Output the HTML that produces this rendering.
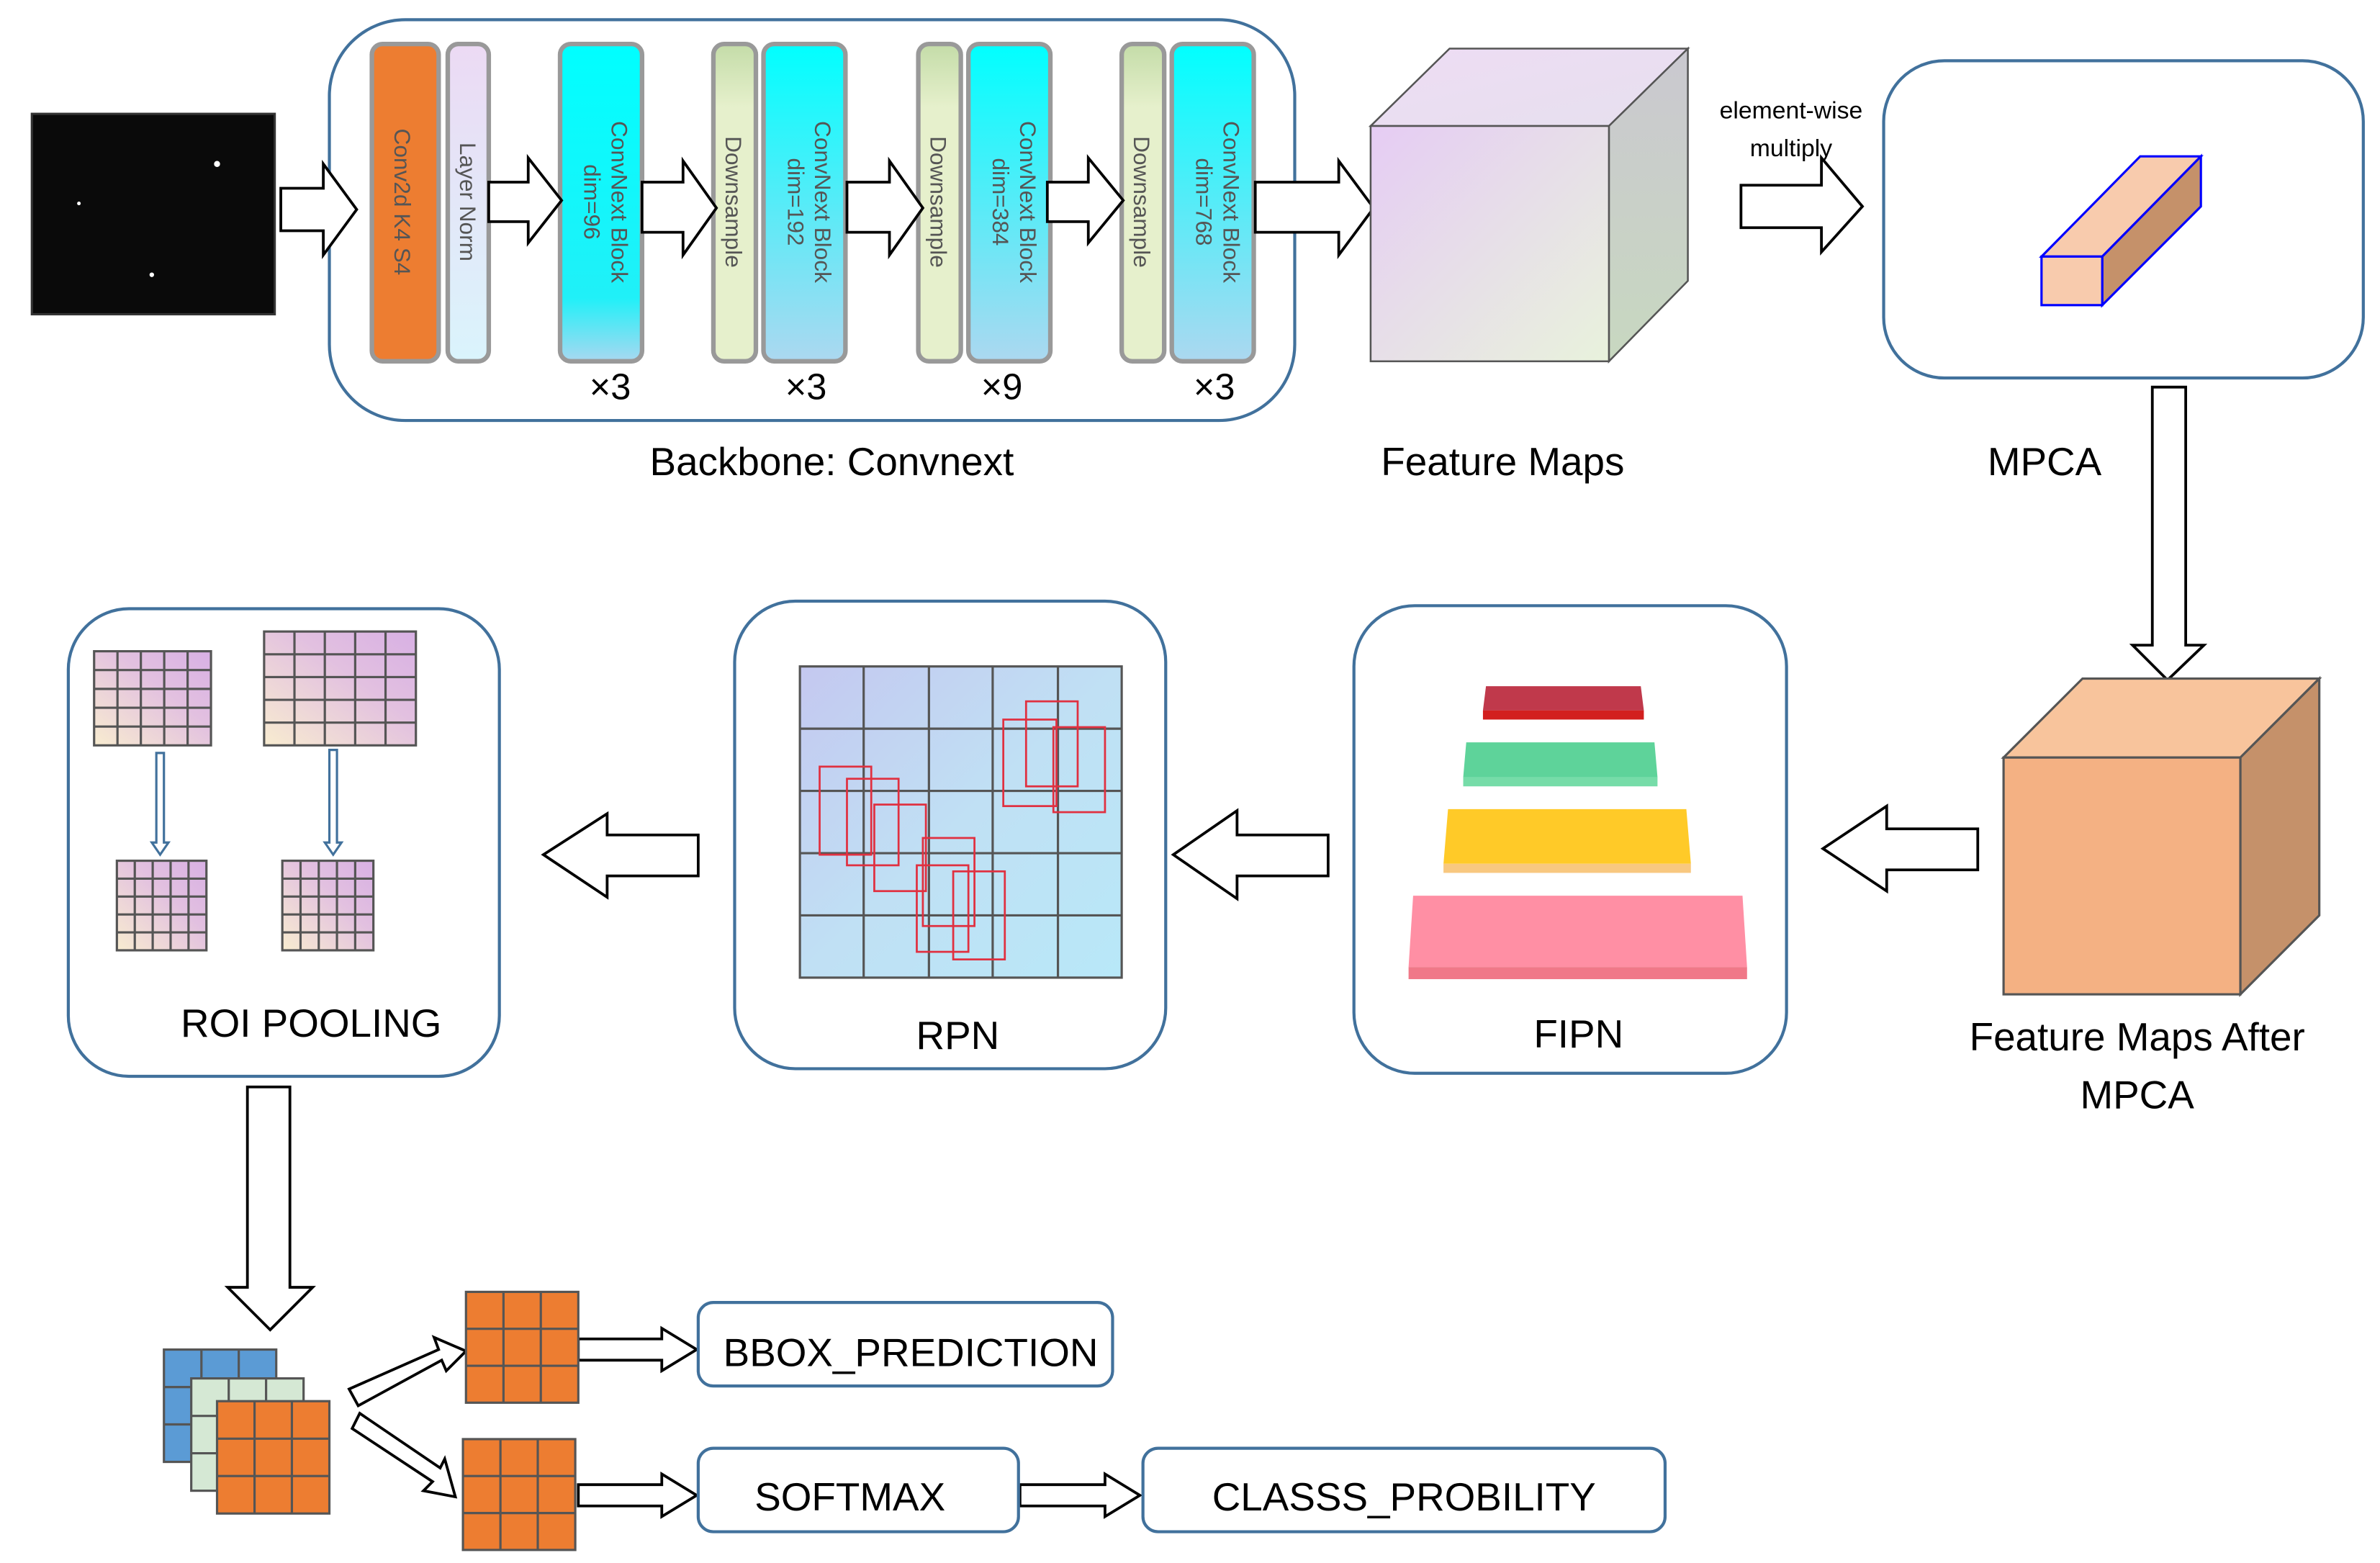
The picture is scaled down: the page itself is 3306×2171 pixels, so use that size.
<!DOCTYPE html>
<html><head><meta charset="utf-8"><style>html,body{margin:0;padding:0;background:#fff}svg{display:block}</style></head><body>
<svg width="3306" height="2171" viewBox="0 0 1568 1029.6" preserveAspectRatio="none" xmlns="http://www.w3.org/2000/svg" font-family="Liberation Sans, DejaVu Sans, sans-serif">
<defs>
<linearGradient id="cy" x1="0" y1="0" x2="0" y2="1"><stop offset="0" stop-color="#00ffff"/><stop offset=".8" stop-color="#20f0f8"/><stop offset="1" stop-color="#a8d8f0"/></linearGradient>
<linearGradient id="cy2" x1="0" y1="0" x2="0" y2="1"><stop offset="0" stop-color="#00ffff"/><stop offset="1" stop-color="#acd8f0"/></linearGradient>
<linearGradient id="ln" x1="0" y1="0" x2="0" y2="1"><stop offset="0" stop-color="#ecdaf4"/><stop offset="1" stop-color="#daf4fc"/></linearGradient>
<linearGradient id="ds" x1="0" y1="0" x2="0" y2="1"><stop offset="0" stop-color="#c4dca8"/><stop offset=".2" stop-color="#e6f0cc"/><stop offset="1" stop-color="#e6f0cc"/></linearGradient>
<linearGradient id="fm" x1="0" y1="0" x2="1" y2="1"><stop offset="0" stop-color="#e6ccf4"/><stop offset="1" stop-color="#e8f2dc"/></linearGradient>
<linearGradient id="fmt" x1="0" y1="0" x2="1" y2="1"><stop offset="0" stop-color="#eedcf4"/><stop offset="1" stop-color="#e6e0ee"/></linearGradient>
<linearGradient id="fms" x1="0" y1="0" x2="0" y2="1"><stop offset="0" stop-color="#cac8d0"/><stop offset="1" stop-color="#c8d8c0"/></linearGradient>
<linearGradient id="rp" x1="0" y1="0" x2="1" y2="1"><stop offset="0" stop-color="#c4c8f0"/><stop offset=".5" stop-color="#c0e0f4"/><stop offset="1" stop-color="#b8e8f8"/></linearGradient>
<linearGradient id="cell" x1="0" y1="1" x2="1" y2="0"><stop offset="0" stop-color="#f8ecd0"/><stop offset=".6" stop-color="#e2c0e0"/><stop offset="1" stop-color="#d8b0e4"/></linearGradient>
</defs>
<rect x="21" y="75" width="160" height="132" fill="#0a0a0a" stroke="#333" stroke-width="1.5"/>
<g fill="#fff"><circle cx="143" cy="108" r="2"/><circle cx="52" cy="134" r="1.2"/><circle cx="100" cy="181" r="1.5"/></g>
<rect x="217" y="13" width="636" height="264" rx="50" fill="none" stroke="#41719c" stroke-width="2"/>
<g stroke="#999" stroke-width="3">
<rect x="245" y="29" width="44" height="209" rx="7" fill="#ed7d31"/>
<rect x="295" y="29" width="27" height="209" rx="7" fill="url(#ln)"/>
<rect x="369" y="29" width="54" height="209" rx="7" fill="url(#cy)"/>
<rect x="470" y="29" width="28" height="209" rx="7" fill="url(#ds)"/>
<rect x="503" y="29" width="54" height="209" rx="7" fill="url(#cy2)"/>
<rect x="605" y="29" width="28" height="209" rx="7" fill="url(#ds)"/>
<rect x="638" y="29" width="54" height="209" rx="7" fill="url(#cy2)"/>
<rect x="739" y="29" width="28" height="209" rx="7" fill="url(#ds)"/>
<rect x="772" y="29" width="54" height="209" rx="7" fill="url(#cy2)"/>
</g>
<g fill="#555" font-size="15">
<text transform="translate(260,133) rotate(90)" text-anchor="middle">Conv2d  K4  S4</text>
<text transform="translate(303,133) rotate(90)" text-anchor="middle">Layer Norm</text>
<text transform="translate(403,133) rotate(90)" text-anchor="middle">ConvNext Block</text>
<text transform="translate(385,133) rotate(90)" text-anchor="middle">dim=96</text>
<text transform="translate(478,133) rotate(90)" text-anchor="middle">Downsample</text>
<text transform="translate(537,133) rotate(90)" text-anchor="middle">ConvNext Block</text>
<text transform="translate(519,133) rotate(90)" text-anchor="middle">dim=192</text>
<text transform="translate(613,133) rotate(90)" text-anchor="middle">Downsample</text>
<text transform="translate(672,133) rotate(90)" text-anchor="middle">ConvNext Block</text>
<text transform="translate(654,133) rotate(90)" text-anchor="middle">dim=384</text>
<text transform="translate(747,133) rotate(90)" text-anchor="middle">Downsample</text>
<text transform="translate(806,133) rotate(90)" text-anchor="middle">ConvNext Block</text>
<text transform="translate(788,133) rotate(90)" text-anchor="middle">dim=768</text>
</g>
<g font-size="24" fill="#000" text-anchor="middle">
<text x="402" y="263">×3</text><text x="531" y="263">×3</text><text x="660" y="263">×9</text><text x="800" y="263">×3</text>
</g>
<g fill="#fff" stroke="#000" stroke-width="1.8" stroke-linejoin="miter">
<polygon points="185,124 213,124 213,108 235,138 213,168 213,152 185,152"/>
<polygon points="322,120 348,120 348,104 370,132 348,160 348,146 322,146"/>
<polygon points="423,120 450,120 450,106 472,137 450,168 450,153 423,153"/>
<polygon points="558,120 586,120 586,106 608,137 586,168 586,153 558,153"/>
<polygon points="690,120 717,120 717,104 740,132 717,160 717,146 690,146"/>
<polygon points="827,120 882,120 882,106 905,137 882,168 882,153 827,153"/>
<polygon points="1147,122 1200,122 1200,104 1227,136 1200,166 1200,150 1147,150"/>
<polygon points="1418,255 1440,255 1440,425 1452,425 1428,448 1405,425 1418,425"/>
<polygon points="1303,546 1243,546 1243,531 1201,559 1243,587 1243,573 1303,573"/>
<polygon points="875,550 815,550 815,534 773,563 815,592 815,577 875,577"/>
<polygon points="460,550 400,550 400,536 358,563 400,591 400,577 460,577"/>
<polygon points="163,716 191,716 191,848 206,848 178,876 150,848 163,848"/>
<polygon points="381,882 436,882 436,875 459,889 436,903 436,896 381,896"/>
<polygon points="381,978 436,978 436,971 459,985 436,999 436,992 381,992"/>
<polygon points="672,978 728,978 728,971 751,985 728,999 728,992 672,992"/>
<polygon points="230,915 289,889 286,881 307,890 294,903 291,896 236,926"/>
<polygon points="232,941 237,931 290,967 293,961 300,986 279,982 285,976"/>
</g>
<g stroke="#555" stroke-width="1.2">
<polygon points="903,83 955,32 1112,32 1060,83" fill="url(#fmt)"/>
<polygon points="1060,83 1112,32 1112,185 1060,238" fill="url(#fms)"/>
<rect x="903" y="83" width="157" height="155" fill="url(#fm)"/>
</g>
<text x="1180" y="78" font-size="16" text-anchor="middle">element-wise</text>
<text x="1180" y="103" font-size="16" text-anchor="middle">multiply</text>
<rect x="1241" y="40" width="316" height="209" rx="40" fill="none" stroke="#41719c" stroke-width="2"/>
<g stroke="#0000ff" stroke-width="1.5">
<polygon points="1345,169 1410,103 1450,103 1385,169" fill="#f8cbad"/>
<polygon points="1385,169 1450,103 1450,136 1385,201" fill="#c5916a"/>
<rect x="1345" y="169" width="40" height="32" fill="#f8cbad"/>
</g>
<g font-size="26" text-anchor="middle" fill="#000">
<text x="548" y="313">Backbone: Convnext</text>
<text x="990" y="313">Feature Maps</text>
<text x="1347" y="313">MPCA</text>
<text x="1408" y="692">Feature Maps After</text>
<text x="1408" y="730">MPCA</text>
<text x="1040" y="690">FIPN</text>
<text x="631" y="691">RPN</text>
<text x="205" y="683">ROI  POOLING</text>
</g>
<g stroke="#555" stroke-width="1.5">
<polygon points="1320,499 1372,447 1528,447 1476,499" fill="#f8c49c"/>
<polygon points="1476,499 1528,447 1528,603 1476,655" fill="#c5916a"/>
<rect x="1320" y="499" width="156" height="156" fill="#f4b183"/>
</g>
<rect x="892" y="399" width="285" height="308" rx="40" fill="none" stroke="#41719c" stroke-width="2"/>
<polygon points="979,452 1081,452 1083,468 977,468" fill="#c0394b"/><rect x="977" y="468" width="106" height="6" fill="#d21f1f"/>
<polygon points="966,489 1090,489 1092,512 964,512" fill="#5ed39a"/><rect x="964" y="512" width="128" height="6" fill="#76dca8"/>
<polygon points="954,533 1111,533 1114,569 951,569" fill="#ffca28"/><rect x="951" y="569" width="163" height="6" fill="#f8c880"/>
<polygon points="931,590 1148,590 1151,637 928,637" fill="#ff8fa4"/><rect x="928" y="637" width="223" height="8" fill="#f07888"/>
<rect x="484" y="396" width="284" height="308" rx="40" fill="none" stroke="#41719c" stroke-width="2"/>
<rect x="527" y="439" width="212" height="205" fill="url(#rp)" stroke="#555" stroke-width="1.5"/>
<g stroke="#555" stroke-width="1.5">
<line x1="569" y1="439" x2="569" y2="644"/><line x1="612" y1="439" x2="612" y2="644"/><line x1="654" y1="439" x2="654" y2="644"/><line x1="697" y1="439" x2="697" y2="644"/>
<line x1="527" y1="480" x2="739" y2="480"/><line x1="527" y1="521" x2="739" y2="521"/><line x1="527" y1="562" x2="739" y2="562"/><line x1="527" y1="603" x2="739" y2="603"/>
</g>
<g fill="none" stroke="#e03040" stroke-width="1.3">
<rect x="540" y="505" width="34" height="58"/><rect x="558" y="513" width="34" height="57"/><rect x="576" y="530" width="34" height="57"/>
<rect x="608" y="552" width="34" height="58"/><rect x="604" y="570" width="34" height="57"/><rect x="628" y="574" width="34" height="58"/>
<rect x="661" y="474" width="35" height="57"/><rect x="676" y="462" width="34" height="56"/><rect x="694" y="479" width="34" height="56"/>
</g>
<rect x="45" y="401" width="284" height="308" rx="40" fill="none" stroke="#41719c" stroke-width="2"/>
<g stroke="#555" stroke-width="1.5" fill="url(#cell)">
<rect x="62" y="429" width="77" height="62"/><rect x="174" y="416" width="100" height="75"/>
<rect x="77" y="567" width="59" height="59"/><rect x="186" y="567" width="60" height="59"/>
</g>
<g stroke="#555" stroke-width="1.5">
<path d="M77.4 429V491M92.8 429V491M108.2 429V491M123.6 429V491M62 441.4H139M62 453.8H139M62 466.2H139M62 478.6H139"/>
<path d="M194 416V491M214 416V491M234 416V491M254 416V491M174 431H274M174 446H274M174 461H274M174 476H274"/>
<path d="M88.8 567V626M100.6 567V626M112.4 567V626M124.2 567V626M77 578.8H136M77 590.6H136M77 602.4H136M77 614.2H136"/>
<path d="M198 567V626M210 567V626M222 567V626M234 567V626M186 578.8H246M186 590.6H246M186 602.4H246M186 614.2H246"/>
</g>
<g fill="#fff" stroke="#41719c" stroke-width="1.5">
<polygon points="103,496 108,496 108,555 111,555 105.5,563 100,555 103,555"/>
<polygon points="217,494 222,494 222,555 225,555 219.5,563 214,555 217,555"/>
</g>
<g stroke="#555" stroke-width="1.5">
<rect x="108" y="889" width="74" height="74" fill="#5b9bd5"/>
<path d="M132.7 889V963M157.3 889V963M108 913.7H182M108 938.3H182" fill="none"/>
<rect x="126" y="908" width="74" height="74" fill="#d5e8d4"/>
<path d="M150.7 908V982M175.3 908V982M126 932.7H200M126 957.3H200" fill="none"/>
<rect x="143" y="923" width="74" height="74" fill="#ed7d31"/>
<path d="M167.7 923V997M192.3 923V997M143 947.7H217M143 972.3H217" fill="none"/>
<rect x="307" y="851" width="74" height="73" fill="#ed7d31"/>
<path d="M331.7 851V924M356.3 851V924M307 875.3H381M307 899.7H381" fill="none"/>
<rect x="305" y="948" width="74" height="73" fill="#ed7d31"/>
<path d="M329.7 948V1021M354.3 948V1021M305 972.3H379M305 996.7H379" fill="none"/>
</g>
<g fill="#fff" stroke="#41719c" stroke-width="2">
<rect x="460" y="858" width="273" height="55" rx="10"/>
<rect x="460" y="954" width="211" height="55" rx="10"/>
<rect x="753" y="954" width="344" height="55" rx="10"/>
</g>
<g font-size="26" text-anchor="middle" fill="#000">
<text x="600" y="900">BBOX_PREDICTION</text>
<text x="560" y="995">SOFTMAX</text>
<text x="925" y="995">CLASSS_PROBILITY</text>
</g>
</svg>
</body></html>
